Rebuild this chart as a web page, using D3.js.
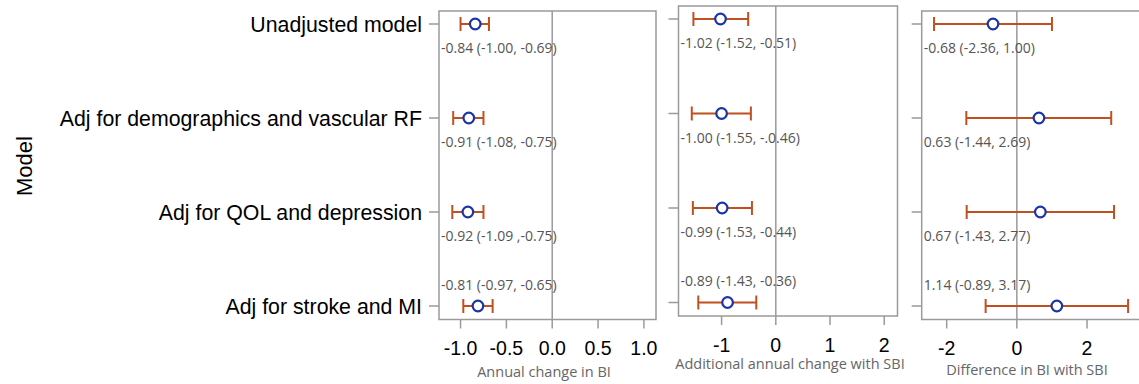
<!DOCTYPE html>
<html lang="en">
<head>
    <meta charset="utf-8">
    <title>Model forest plot</title>
    <script src="https://cdnjs.cloudflare.com/ajax/libs/d3/7.8.5/d3.min.js"></script>
    <style>
        body { margin: 0; background: #fff; }
        svg { display: block; }
        .row-label { font-family: "Liberation Sans", Arial, sans-serif; font-size: 21.3px; fill: #000; }
        .tick-label { font-family: "Liberation Sans", Arial, sans-serif; font-size: 19.5px; fill: #000; }
        .axis-title { font-family: "Open Sans", "Noto Sans", sans-serif; font-size: 14.5px; fill: #666; }
        .est-label { font-family: "Open Sans", "Noto Sans", sans-serif; font-size: 14px; fill: #555; }
    </style>
</head>
<body>
    <svg id="chart"></svg>

    <script>
        const width = 1139;
        const height = 384;

        // Models (rows)
        const models = [
            'Unadjusted model',
            'Adj for demographics and vascular RF',
            'Adj for QOL and depression',
            'Adj for stroke and MI'
        ];

        // Annual change in BI
        const annualEst = [-0.84, -0.91, -0.92, -0.81];
        const annualLo = [-1.00, -1.08, -1.09, -0.97];
        const annualHi = [-0.69, -0.75, -0.75, -0.65];
        const annualLabels = [
            '-0.84 (-1.00, -0.69)',
            '-0.91 (-1.08, -0.75)',
            '-0.92 (-1.09 ,-0.75)',
            '-0.81 (-0.97, -0.65)'
        ];
        const annualTicks = [-1.0, -0.5, 0.0, 0.5, 1.0];

        // Additional annual change with SBI
        const sbiEst = [-1.02, -1.00, -0.99, -0.89];
        const sbiLo = [-1.52, -1.55, -1.53, -1.43];
        const sbiHi = [-0.51, -0.46, -0.44, -0.36];
        const sbiLabels = [
            '-1.02 (-1.52, -0.51)',
            '-1.00 (-1.55, -.0.46)',
            '-0.99 (-1.53, -0.44)',
            '-0.89 (-1.43, -0.36)'
        ];
        const sbiTicks = [-1, 0, 1, 2];

        // Difference in BI with SBI
        const diffEst = [-0.68, 0.63, 0.67, 1.14];
        const diffLo = [-2.36, -1.44, -1.43, -0.89];
        const diffHi = [1.00, 2.69, 2.77, 3.17];
        const diffLabels = [
            '-0.68 (-2.36, 1.00)',
            '0.63 (-1.44, 2.69)',
            '0.67 (-1.43, 2.77)',
            '1.14 (-0.89, 3.17)'
        ];
        const diffTicks = [-2, 0, 2];

        const frameColor = '#9a9a9a';
        const ciColor = '#c0501f';
        const dotColor = '#1b34a8';

        const svg = d3.select('#chart')
            .attr('width', width)
            .attr('height', height);

        // plain hyphen minus, as in the original figure
        const fmt1 = d => d3.format('.1f')(d).replace('\u2212', '-');
        const fmt0 = d => d3.format('d')(d).replace('\u2212', '-');

        // Panel setup
        const panels = [
            {
                est: annualEst, lo: annualLo, hi: annualHi, labels: annualLabels, ticks: annualTicks,
                domain: [-1.235, 1.132], left: 439, right: 656, top: 11, bottom: 319.5,
                fmt: fmt1, title: 'Annual change in BI', titleX: 544, titleY: 377, labelY: 355
            },
            {
                est: sbiEst, lo: sbiLo, hi: sbiHi, labels: sbiLabels, ticks: sbiTicks,
                domain: [-1.795, 2.245], left: 678.5, right: 897.5, top: 6, bottom: 316,
                fmt: fmt0, title: 'Additional annual change with SBI', titleX: 790, titleY: 369, labelY: 352
            },
            {
                est: diffEst, lo: diffLo, hi: diffHi, labels: diffLabels, ticks: diffTicks,
                domain: [-2.712, 3.795], left: 921.7, right: 1150, top: 11, bottom: 319.5,
                fmt: fmt0, title: 'Difference in BI with SBI', titleX: 1027, titleY: 375, labelY: 355
            }
        ];

        const panelY = panels.map(p => d3.scalePoint()
            .domain(models)
            .range([p.top + 13, p.bottom - 13.5]));

        panels.forEach((p, i) => drawPanel(p, panelY[i]));

        // Row labels follow the first panel
        svg.append('g')
            .selectAll('text')
            .data(models)
            .enter().append('text')
            .attr('class', 'row-label')
            .attr('x', 422)
            .attr('y', d => panelY[0](d) + 7.6)
            .attr('text-anchor', 'end')
            .text(d => d);

        svg.append('text')
            .attr('class', 'row-label')
            .attr('transform', 'translate(31.5,166) rotate(-90)')
            .attr('text-anchor', 'middle')
            .style('font-size', '22px')
            .text('Model');

        function drawPanel(p, y) {
            const x = d3.scaleLinear().domain(p.domain).range([p.left, p.right]);
            const g = svg.append('g');

            // frame
            g.append('rect')
                .attr('x', p.left)
                .attr('y', p.top)
                .attr('width', p.right - p.left)
                .attr('height', p.bottom - p.top)
                .attr('fill', 'none')
                .attr('stroke', frameColor)
                .attr('stroke-width', 1.5);

            // zero reference line
            g.append('line')
                .attr('x1', x(0)).attr('x2', x(0))
                .attr('y1', p.top).attr('y2', p.bottom)
                .attr('stroke', frameColor)
                .attr('stroke-width', 1.5);

            // row ticks on the left
            g.selectAll('.ytick')
                .data(models)
                .enter().append('line')
                .attr('x1', p.left - 10).attr('x2', p.left)
                .attr('y1', d => y(d)).attr('y2', d => y(d))
                .attr('stroke', frameColor)
                .attr('stroke-width', 1.5);

            // x ticks
            g.selectAll('.xtick')
                .data(p.ticks)
                .enter().append('line')
                .attr('x1', d => x(d)).attr('x2', d => x(d))
                .attr('y1', p.bottom).attr('y2', p.bottom + 9)
                .attr('stroke', frameColor)
                .attr('stroke-width', 1.5);

            g.selectAll('.tick-label')
                .data(p.ticks)
                .enter().append('text')
                .attr('class', 'tick-label')
                .attr('x', d => x(d))
                .attr('y', p.labelY)
                .attr('text-anchor', 'middle')
                .text(d => p.fmt(d));

            g.append('text')
                .attr('class', 'axis-title')
                .attr('x', p.titleX)
                .attr('y', p.titleY)
                .attr('text-anchor', 'middle')
                .text(p.title);

            const rows = models.map((m, j) => ({
                m, est: p.est[j], lo: p.lo[j], hi: p.hi[j], label: p.labels[j], last: j === models.length - 1
            }));

            // whiskers
            const ci = g.selectAll('.ci')
                .data(rows)
                .enter().append('g');

            ci.append('line')
                .attr('x1', d => x(d.lo)).attr('x2', d => x(d.hi))
                .attr('y1', d => y(d.m)).attr('y2', d => y(d.m));
            ci.append('line')
                .attr('x1', d => x(d.lo)).attr('x2', d => x(d.lo))
                .attr('y1', d => y(d.m) - 7).attr('y2', d => y(d.m) + 7);
            ci.append('line')
                .attr('x1', d => x(d.hi)).attr('x2', d => x(d.hi))
                .attr('y1', d => y(d.m) - 7).attr('y2', d => y(d.m) + 7);
            ci.selectAll('line')
                .attr('stroke', ciColor)
                .attr('stroke-width', 2);

            // estimates
            g.selectAll('.dot')
                .data(rows)
                .enter().append('circle')
                .attr('cx', d => x(d.est))
                .attr('cy', d => y(d.m))
                .attr('r', 5.3)
                .attr('fill', '#fff')
                .attr('stroke', dotColor)
                .attr('stroke-width', 2.2);

            // estimate labels, below the row except the last
            g.selectAll('.est-label')
                .data(rows)
                .enter().append('text')
                .attr('class', 'est-label')
                .attr('x', p.left + 2)
                .attr('y', d => d.last ? y(d.m) - 16.5 : y(d.m) + 29)
                .text(d => d.label);
        }
    </script>
</body>
</html>
